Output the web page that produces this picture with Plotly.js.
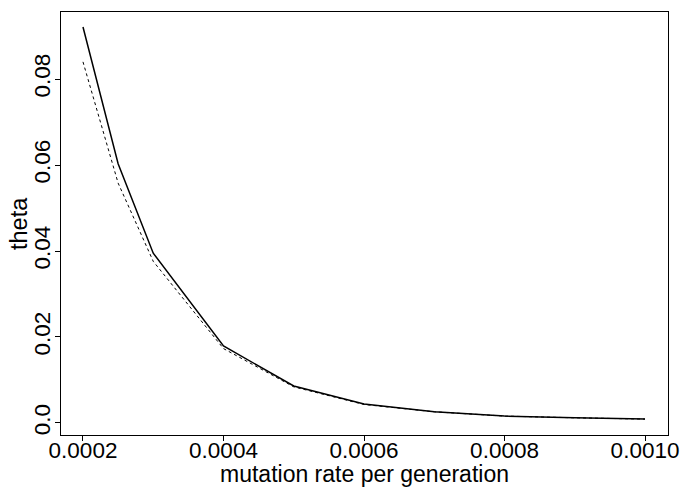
<!DOCTYPE html>
<html>
<head>
<meta charset="utf-8">
<script src="https://cdn.plot.ly/plotly-3.0.1.min.js"></script>
<style>html,body{margin:0;padding:0;background:#fff;}#chart{width:682px;height:489px;}</style>
</head>
<body>
<div id="chart"></div>
<script>
const mutationRate = [0.0002, 0.00025, 0.0003, 0.0004, 0.0005, 0.0006, 0.0007, 0.0008, 0.0009, 0.0010];
const thetaSolid   = [0.0921, 0.0603, 0.0395, 0.0179, 0.0086, 0.0044, 0.0026, 0.0016, 0.0012, 0.0009];
const thetaDotted  = [0.0840, 0.0558, 0.0376, 0.0173, 0.0084, 0.0043, 0.0026, 0.0016, 0.0012, 0.0009];
const xTicks = [0.0002, 0.0004, 0.0006, 0.0008, 0.0010];
const xTickLabels = ["0.0002", "0.0004", "0.0006", "0.0008", "0.0010"];
const yTicks = [0, 0.02, 0.04, 0.06, 0.08];
const yTickLabels = ["0.0", "0.02", "0.04", "0.06", "0.08"];
const xTitle = 'mutation rate per generation';
const yTitle = 'theta';

const traces = [
  {x: mutationRate, y: thetaSolid, mode: 'lines', line: {color: '#000', width: 1.5}, hoverinfo: 'none'},
  {x: mutationRate, y: thetaDotted, mode: 'lines', line: {color: '#000', width: 1, dash: 'dot'}, hoverinfo: 'none'}
];

const font = {family: '"Liberation Sans", Arial, Helvetica, sans-serif', color: '#000'};

const layout = {
  width: 682, height: 489,
  margin: {l: 61, r: 14, t: 12, b: 54},
  paper_bgcolor: '#fff', plot_bgcolor: '#fff',
  showlegend: false,
  font: Object.assign({size: 22}, font),
  xaxis: {
    range: [0.0001687, 0.0010327],
    tickvals: xTicks, ticktext: xTickLabels,
    ticks: 'outside', ticklen: 5, tickcolor: '#000', tickwidth: 1,
    ticklabelstandoff: -10,
    showgrid: false, zeroline: false,
    showline: true, linecolor: '#000', linewidth: 1, mirror: true,
    tickfont: Object.assign({size: 22.5}, font)
  },
  yaxis: {
    range: [-0.0028, 0.0956],
    tickvals: yTicks, ticktext: yTickLabels,
    tickangle: -90,
    ticks: 'outside', ticklen: 5, tickcolor: '#000', tickwidth: 1,
    ticklabelstandoff: -4,
    showgrid: false, zeroline: false,
    showline: true, linecolor: '#000', linewidth: 1, mirror: true,
    tickfont: Object.assign({size: 22.5}, font)
  },
  annotations: [
    {text: xTitle, xref: 'paper', yref: 'paper', x: 0.5, y: -0.093, xanchor: 'center', yanchor: 'middle',
     showarrow: false, borderpad: 0, font: Object.assign({size: 23}, font)},
    {text: yTitle, xref: 'paper', yref: 'paper', x: -0.069, y: 0.499, xanchor: 'center', yanchor: 'middle',
     textangle: -90, showarrow: false, font: Object.assign({size: 23.5}, font)}
  ]
};

Plotly.newPlot('chart', traces, layout, {displayModeBar: false, staticPlot: true});
</script>
</body>
</html>
